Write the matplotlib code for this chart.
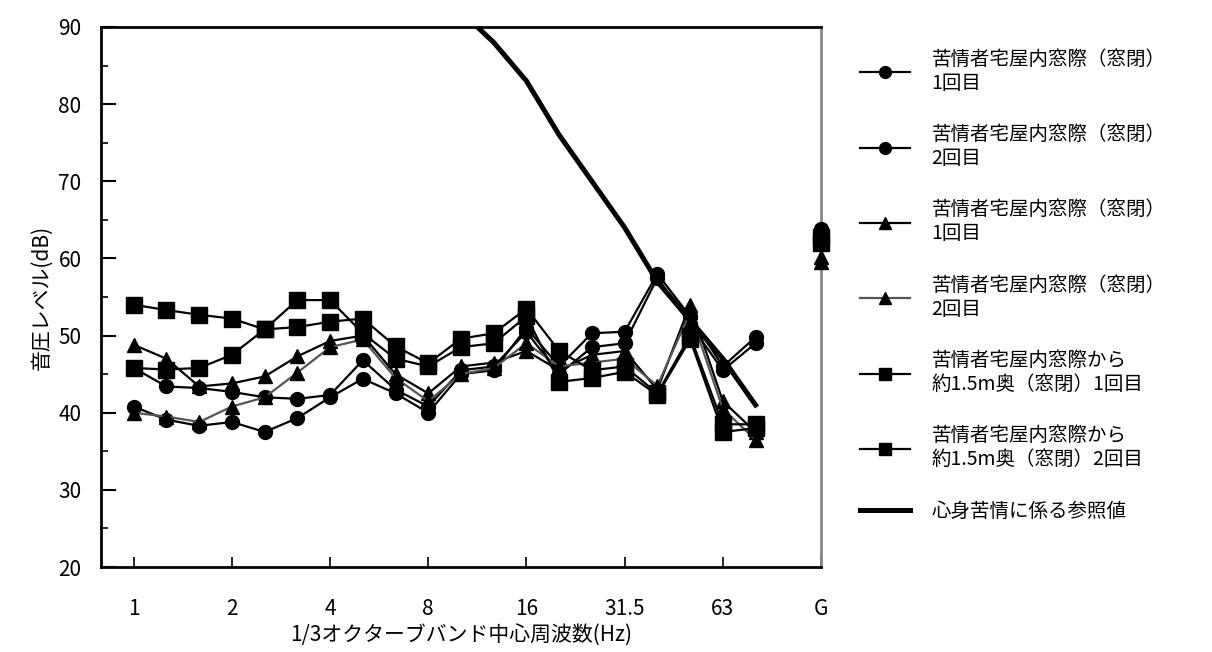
import numpy as np
import matplotlib
matplotlib.use("Agg")
from matplotlib import pyplot as plt

plt.rcParams['font.family'] = ['Noto Sans CJK JP', 'DejaVu Sans']

# 1/3オクターブバンド中心周波数
bandas = ["1", "1.25", "1.6", "2", "2.5", "3.15", "4", "5", "6.3", "8",
          "10", "12.5", "16", "20", "25", "31.5", "40", "50", "63", "80"]
etiquetas = ["1", "2", "4", "8", "16", "31.5", "63", "G"]

maru1 = [40.8, 39.1, 38.3, 38.8, 37.5, 39.3, 42.0, 44.4, 42.5, 40.0,
         45.0, 45.5, 51.0, 46.0, 50.3, 50.5, 58.0, 52.5, 46.0, 49.8]
maru2 = [45.8, 43.4, 43.2, 42.7, 42.0, 41.8, 42.3, 46.8, 43.0, 40.8,
         45.5, 46.0, 50.5, 45.0, 48.5, 49.0, 57.5, 51.5, 45.5, 49.0]
sankaku1 = [48.8, 47.0, 43.4, 43.8, 44.7, 47.3, 49.3, 50.0, 45.0, 42.5,
            46.0, 46.5, 48.0, 45.5, 47.5, 48.0, 43.0, 54.0, 41.5, 37.5]
sankaku2 = [40.0, 39.5, 38.8, 40.8, 42.0, 45.2, 48.5, 49.5, 44.5, 41.5,
            45.0, 45.8, 49.0, 46.0, 46.5, 47.0, 43.5, 53.0, 40.5, 36.5]
shikaku1 = [54.0, 53.3, 52.7, 52.2, 50.8, 51.1, 51.8, 52.2, 48.6, 46.4,
            49.6, 50.3, 53.5, 48.0, 45.5, 46.0, 42.5, 50.0, 38.5, 38.5]
shikaku2 = [45.8, 45.6, 45.8, 47.5, 50.8, 54.6, 54.6, 50.3, 47.0, 46.0,
            48.5, 49.0, 52.5, 44.0, 44.5, 45.3, 42.3, 49.5, 37.5, 38.0]
# G特性音圧レベル
valoresG = [63.8, 63.2, 59.5, 60.2, 62.8, 62.0]

# 心身苦情に係る参照値 (10Hz〜80Hz)
bandasRef = ["10", "12.5", "16", "20", "25", "31.5", "40", "50", "63", "80"]
referencia = [92, 88, 83, 76, 70, 64, 57, 52, 47, 41]

nombres = ["苦情者宅屋内窓際（窓閉）\n1回目",
           "苦情者宅屋内窓際（窓閉）\n2回目",
           "苦情者宅屋内窓際（窓閉）\n1回目",
           "苦情者宅屋内窓際（窓閉）\n2回目",
           "苦情者宅屋内窓際から\n約1.5m奥（窓閉）1回目",
           "苦情者宅屋内窓際から\n約1.5m奥（窓閉）2回目"]

x = np.arange(len(bandas))
xG = len(bandas) + 1
xRef = np.array([bandas.index(b) for b in bandasRef])

fig = plt.figure(figsize=(12.12, 6.52), dpi=100)
ax = fig.add_axes([101 / 1212, 1 - 567 / 652, 720 / 1212, 540 / 652])

series = [maru1, maru2, sankaku1, sankaku2, shikaku1, shikaku2]
marcas = ['o', 'o', '^', '^', 's', 's']
tamanos = [10, 10, 10.5, 10.5, 11, 11]
colores = ['black', 'black', 'black', '#555555', 'black', 'black']

for datos, m, t, c, nombre, g in zip(series, marcas, tamanos, colores, nombres, valoresG):
    ax.plot(x, datos, color=c, lw=1.6, marker=m, ms=t,
            mfc='black', mec='black', label=nombre)
    ax.plot([xG], [g], ls='none', marker=m, ms=t,
            mfc='black', mec='black', clip_on=False, zorder=5)

ax.plot(xRef, referencia, color='black', lw=3.6, label="心身苦情に係る参照値")

ax.set_xlim(-1, xG)
ax.set_ylim(20, 90)

posTicks = [0, 3, 6, 9, 12, 15, 18, xG]
ax.set_xticks(posTicks)
ax.set_xticklabels(etiquetas, fontsize=15)
ax.set_yticks(np.arange(20, 91, 10))
ax.set_yticks(np.arange(25, 90, 10), minor=True)
ax.tick_params(axis='y', which='major', direction='in', length=11, width=1.5,
               labelsize=15, pad=14)
ax.tick_params(axis='y', which='minor', direction='in', length=5, width=1.2)
ax.tick_params(axis='x', direction='in', length=7, width=1.2, pad=22)

for lado in ('left', 'bottom', 'top'):
    ax.spines[lado].set_linewidth(2)
    ax.spines[lado].set_color('black')
ax.spines['right'].set_linewidth(2)
ax.spines['right'].set_color('#888888')

ax.set_ylabel("音圧レベル(dB)", fontsize=15, labelpad=4)
ax.set_xlabel("1/3オクターブバンド中心周波数(Hz)", fontsize=15, labelpad=4)

fig.legend(loc='upper left', bbox_to_anchor=(842 / 1212, 1 - 31 / 652),
           frameon=False, fontsize=14, handlelength=2.6, handletextpad=1.1,
           labelspacing=1.55, markerscale=0.85)

plt.savefig("out.png", dpi=100)
